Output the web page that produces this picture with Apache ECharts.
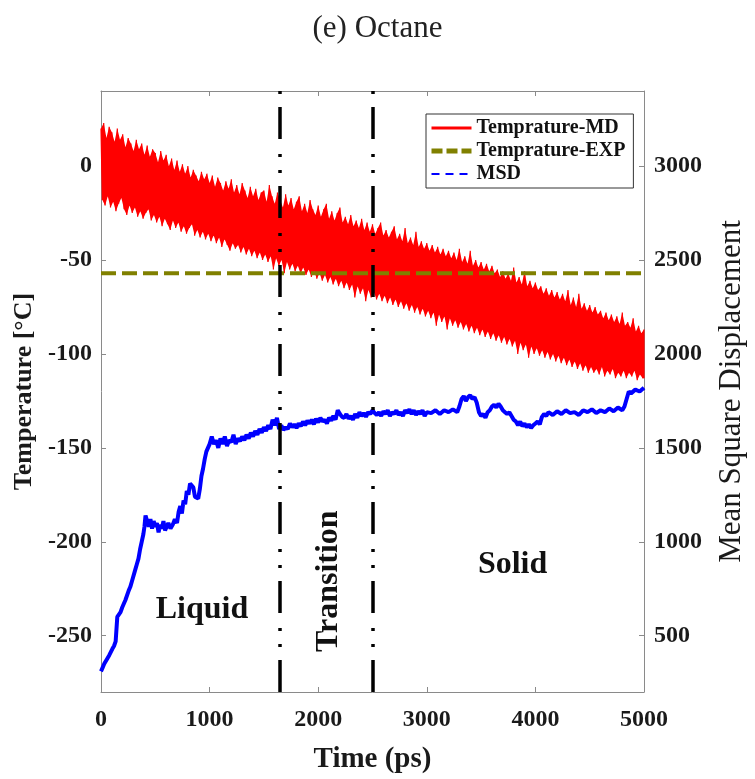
<!DOCTYPE html>
<html>
<head>
<meta charset="utf-8">
<script src="https://cdn.jsdelivr.net/npm/echarts@6/dist/echarts.min.js"></script>
<style>
  html, body { margin: 0; padding: 0; background: #fff; }
  #chart { width: 755px; height: 779px; }
</style>
</head>
<body>
<div id="chart"></div>
<script>
// time step of the MD temperature trace (peak at t, trough at t + step/2)
var mdStep = 25;
var mdPeaks = [20, 23, 15, 21, 18, 13, 20, 14, 17, 10,
    15, 12, 8, 14, 9, 12, 6, 11, 5, 9,
    7, 2, 8, 3, 6, 0, 4, -2, 3, -3,
    1, -4, 0, -6, -2, -5, -8, -3, -7, -4,
    -9, -5, -11, -6, -9, -13, -8, -12, -7, -14,
    -10, -15, -9, -13, -17, -11, -16, -12, -18, -14,
    -13, -19, -10, -16, -20, -14, -18, -22, -15, -21,
    -17, -23, -19, -16, -24, -20, -25, -18, -23, -26,
    -21, -27, -23, -20, -28, -24, -29, -25, -22, -30,
    -27, -31, -26, -32, -29, -33, -28, -34, -30, -35,
    -31, -36, -33, -30, -37, -34, -38, -35, -32, -39,
    -36, -40, -33, -41, -38, -42, -35, -43, -40, -44,
    -41, -45, -42, -46, -43, -47, -44, -48, -45, -49,
    -46, -50, -44, -51, -48, -52, -45, -53, -50, -54,
    -51, -55, -52, -56, -53, -57, -55, -59, -56, -60,
    -57, -61, -54, -62, -59, -63, -56, -64, -61, -65,
    -62, -66, -64, -68, -65, -69, -66, -70, -67, -71,
    -68, -72, -66, -74, -70, -75, -68, -76, -73, -77,
    -74, -78, -75, -79, -77, -81, -78, -82, -79, -83,
    -80, -84, -78, -85, -83, -86, -81, -88, -85, -89,
    -87];
var mdTroughs = [-18, -21, -16, -22, -19, -24, -20, -17, -23, -26,
    -21, -25, -22, -27, -24, -28, -25, -23, -29, -26,
    -30, -27, -32, -28, -31, -34, -29, -33, -30, -35,
    -32, -36, -33, -31, -37, -34, -38, -35, -39, -36,
    -40, -37, -41, -38, -43, -39, -42, -45, -41, -44,
    -42, -46, -43, -47, -44, -48, -45, -49, -46, -50,
    -47, -51, -48, -55, -49, -53, -50, -57, -51, -55,
    -52, -56, -53, -57, -54, -58, -55, -59, -56, -60,
    -57, -61, -58, -62, -59, -63, -60, -64, -61, -65,
    -62, -66, -63, -70, -64, -68, -65, -72, -66, -70,
    -67, -71, -68, -72, -69, -73, -70, -74, -71, -75,
    -72, -76, -73, -77, -74, -78, -75, -79, -76, -80,
    -77, -81, -78, -85, -79, -83, -80, -87, -81, -85,
    -82, -86, -83, -87, -84, -88, -85, -89, -86, -90,
    -87, -91, -88, -92, -89, -93, -90, -94, -91, -95,
    -92, -96, -93, -100, -94, -98, -95, -102, -96, -100,
    -97, -101, -98, -102, -99, -103, -100, -104, -101, -105,
    -102, -106, -103, -107, -104, -108, -105, -109, -106, -110,
    -107, -110, -108, -111, -107, -112, -109, -111, -108, -113,
    -110, -112, -109, -113, -110, -112, -109, -114, -111, -113,
    -113];

var expTemp = -57;
var expRange = [0, 5000];

var msdTime = [0, 15, 30, 45, 60, 75, 90, 105, 120, 135, 145, 150, 165, 180, 195, 210, 225, 240, 255, 270,
    285, 300, 315, 330, 345, 360, 375, 390, 400, 410, 420, 430, 440, 455, 470, 485, 500, 515, 530, 545,
    560, 575, 590, 605, 620, 640, 660, 680, 700, 715, 730, 745, 760, 775, 790, 805, 820, 835, 850, 865,
    880, 895, 910, 925, 940, 955, 970, 985, 1000, 1020, 1040, 1060, 1080, 1100, 1120, 1140, 1160, 1180, 1200, 1220,
    1240, 1260, 1280, 1300, 1320, 1340, 1360, 1380, 1400, 1420, 1440, 1460, 1480, 1500, 1520, 1540, 1560, 1580, 1600, 1620,
    1640, 1660, 1680, 1700, 1720, 1740, 1760, 1780, 1800, 1820, 1840, 1860, 1880, 1900, 1920, 1940, 1960, 1980, 2000, 2020,
    2040, 2060, 2080, 2100, 2120, 2140, 2160, 2180, 2200, 2220, 2240, 2260, 2280, 2300, 2320, 2340, 2360, 2380, 2400, 2420,
    2440, 2460, 2480, 2500, 2520, 2540, 2560, 2580, 2600, 2620, 2640, 2660, 2680, 2700, 2720, 2740, 2760, 2780, 2800, 2820,
    2840, 2860, 2880, 2900, 2920, 2940, 2960, 2980, 3000, 3040, 3080, 3120, 3160, 3200, 3240, 3280, 3300, 3320, 3340, 3360,
    3380, 3400, 3420, 3440, 3460, 3480, 3500, 3520, 3540, 3560, 3580, 3600, 3620, 3640, 3660, 3680, 3700, 3720, 3740, 3760,
    3780, 3800, 3820, 3840, 3860, 3880, 3900, 3920, 3940, 3960, 3980, 4000, 4020, 4040, 4060, 4080, 4100, 4120, 4160, 4200,
    4240, 4280, 4320, 4360, 4400, 4440, 4480, 4520, 4560, 4600, 4640, 4680, 4720, 4760, 4800, 4820, 4840, 4860, 4880, 4920,
    4960, 5000];
var msdValue = [310, 330, 350, 345, 380, 395, 400, 430, 445, 470, 480, 600, 610, 625, 650, 640, 690, 700, 740, 760,
    790, 800, 850, 880, 910, 960, 1000, 1040, 1080, 1140, 1150, 1100, 1080, 1120, 1070, 1110, 1080, 1100, 1050, 1090,
    1070, 1110, 1060, 1080, 1100, 1070, 1090, 1120, 1100, 1160, 1190, 1150, 1220, 1200, 1270, 1250, 1310, 1320, 1290, 1240,
    1250, 1230, 1280, 1350, 1390, 1440, 1480, 1500, 1520, 1560, 1520, 1540, 1500, 1550, 1520, 1560, 1510, 1540, 1530, 1570,
    1520, 1550, 1535, 1560, 1540, 1570, 1550, 1580, 1560, 1590, 1570, 1600, 1580, 1610, 1590, 1620, 1600, 1650, 1620, 1660,
    1600, 1620, 1595, 1610, 1600, 1630, 1610, 1625, 1605, 1630, 1615, 1640, 1620, 1645, 1630, 1650, 1625, 1655, 1635, 1660,
    1640, 1650, 1630, 1660, 1645, 1670, 1650, 1700, 1680, 1665, 1660, 1680, 1655, 1670, 1650, 1680, 1660, 1690, 1670, 1685,
    1665, 1690, 1680, 1700, 1685, 1675, 1690, 1670, 1695, 1680, 1700, 1670, 1690, 1680, 1700, 1675, 1690, 1670, 1700, 1685,
    1705, 1680, 1700, 1675, 1695, 1680, 1700, 1670, 1690, 1685, 1700, 1680, 1700, 1690, 1705, 1690, 1720, 1760, 1775, 1750,
    1770, 1780, 1760, 1770, 1740, 1690, 1670, 1680, 1660, 1690, 1700, 1720, 1730, 1715, 1735, 1720, 1700, 1690, 1680, 1690,
    1670, 1650, 1640, 1620, 1640, 1615, 1630, 1610, 1625, 1605, 1620, 1630, 1640, 1625, 1665, 1680, 1670, 1690, 1675, 1695,
    1680, 1700, 1685, 1690, 1675, 1700, 1690, 1705, 1685, 1700, 1690, 1710, 1695, 1715, 1700, 1720, 1760, 1800, 1790, 1810,
    1800, 1820];

var phaseBounds = [1650, 2500];
var tempTicks = [-250, -200, -150, -100, -50, 0];
var msdTicks = [500, 1000, 1500, 2000, 2500, 3000];
var regionLabels = [
    { text: 'Liquid', x: 930, y: -236, rotate: 0 },
    { text: 'Transition', x: 2100, y: -221, rotate: Math.PI / 2 },
    { text: 'Solid', x: 3790, y: -212, rotate: 0 }
];

var serif = 'Liberation Serif';
var axisGrey = '#8a8a8a';
var red = '#ff0000';

function troughTime(j) {
    return j < mdTroughs.length - 1 ? j * mdStep + mdStep / 2 : j * mdStep;
}

// zig-zag trace: peak at t, trough half a step later
function buildMd() {
    var out = [];
    for (var i = 0; i < mdPeaks.length; i++) {
        out.push([i * mdStep, mdPeaks[i]]);
        out.push([troughTime(i), mdTroughs[i]]);
    }
    return out;
}

// filled band between the peaks and the troughs of the trace
function renderBand(params, api) {
    var pts = [];
    for (var i = 0; i < mdPeaks.length; i++) {
        pts.push(api.coord([i * mdStep, mdPeaks[i]]));
    }
    for (var j = mdTroughs.length - 1; j >= 0; j--) {
        pts.push(api.coord([troughTime(j), mdTroughs[j]]));
    }
    return {
        type: 'polygon',
        shape: { points: pts },
        style: { fill: red }
    };
}

function buildMsd() {
    var out = [];
    for (var i = 0; i < msdTime.length; i++) {
        out.push([msdTime[i], msdValue[i]]);
    }
    return out;
}

function labelStyle() {
    return {
        fontFamily: serif, fontWeight: 'bold', fontSize: 24, color: '#1a1a1a',
        formatter: function (v) { return String(v); }
    };
}

var chart = echarts.init(document.getElementById('chart'), null, { renderer: 'canvas' });

var option = {
    animation: false,
    backgroundColor: '#fff',
    title: {
        text: '(e) Octane',
        left: 'center',
        top: 8,
        textStyle: { fontFamily: serif, fontWeight: 'normal', fontSize: 31, color: '#222' }
    },
    legend: {
        data: [
            { name: 'Temprature-MD', lineStyle: { width: 3 } },
            { name: 'Temprature-EXP', lineStyle: { width: 5, type: [11, 4] } },
            { name: 'MSD', lineStyle: { width: 2, type: [8, 6] } }
        ],
        orient: 'vertical',
        left: 426,
        top: 114,
        itemWidth: 40,
        itemHeight: 12,
        itemGap: 3,
        padding: [4, 8, 4, 3],
        borderColor: '#333',
        borderWidth: 1,
        backgroundColor: '#fff',
        itemStyle: { opacity: 0 },
        textStyle: { fontFamily: serif, fontWeight: 'bold', fontSize: 20, color: '#111' }
    },
    grid: { left: 101, right: 102, top: 91, bottom: 75, containLabel: false },
    xAxis: [{
        type: 'value', min: 0, max: 5000, interval: 1000, position: 'bottom',
        name: 'Time (ps)', nameLocation: 'middle', nameGap: 53,
        nameTextStyle: { fontFamily: serif, fontWeight: 'bold', fontSize: 29, color: '#1a1a1a' },
        axisLine: { onZero: false, lineStyle: { color: axisGrey, width: 1 } },
        axisTick: { inside: true, length: 5, lineStyle: { color: axisGrey } },
        axisLabel: Object.assign({ margin: 16 }, labelStyle()),
        splitLine: { show: false }
    }, {
        type: 'value', min: 0, max: 5000, interval: 1000, position: 'top',
        axisLine: { onZero: false, lineStyle: { color: axisGrey, width: 1 } },
        axisTick: { inside: true, length: 5, lineStyle: { color: axisGrey } },
        axisLabel: { show: false },
        splitLine: { show: false }
    }],
    yAxis: [{
        type: 'value', min: -280, max: 40, position: 'left',
        name: 'Temperature [°C]', nameLocation: 'middle', nameGap: 64, nameRotate: 90,
        nameTextStyle: { fontFamily: serif, fontWeight: 'bold', fontSize: 26, color: '#1a1a1a' },
        axisLine: { show: true, onZero: false, lineStyle: { color: axisGrey, width: 1 } },
        axisTick: { show: true, inside: true, length: 5, customValues: tempTicks, lineStyle: { color: axisGrey } },
        axisLabel: Object.assign({ margin: 9, customValues: tempTicks }, labelStyle()),
        splitLine: { show: false }
    }, {
        type: 'value', min: 200, max: 3400, position: 'right',
        name: 'Mean Square Displacement', nameLocation: 'middle', nameGap: 72, nameRotate: 90,
        nameTextStyle: { fontFamily: serif, fontWeight: 'normal', fontSize: 31, color: '#1a1a1a' },
        axisLine: { show: true, onZero: false, lineStyle: { color: axisGrey, width: 1 } },
        axisTick: { show: true, inside: true, length: 5, customValues: msdTicks, lineStyle: { color: axisGrey } },
        axisLabel: Object.assign({ margin: 10, customValues: msdTicks }, labelStyle()),
        splitLine: { show: false }
    }],
    series: [{
        name: 'mdBand', type: 'custom', xAxisIndex: 0, yAxisIndex: 0,
        data: [[0, mdPeaks[0]]], silent: true,
        renderItem: renderBand
    }, {
        name: 'Temprature-MD', type: 'line', xAxisIndex: 0, yAxisIndex: 0,
        data: buildMd(), symbol: 'none',
        lineStyle: { color: red, width: 1.2 },
        itemStyle: { color: red }
    }, {
        name: 'Temprature-EXP', type: 'line', xAxisIndex: 0, yAxisIndex: 0,
        data: [[expRange[0], expTemp], [expRange[1], expTemp]], symbol: 'none',
        lineStyle: { color: '#808000', width: 4, type: [15, 6] },
        itemStyle: { color: '#808000' }
    }, {
        name: 'MSD', type: 'line', xAxisIndex: 0, yAxisIndex: 1,
        data: buildMsd(), symbol: 'none',
        lineStyle: { color: '#0000ff', width: 4 },
        itemStyle: { color: '#0000ff' }
    }, {
        name: 'phase', type: 'line', xAxisIndex: 0, yAxisIndex: 0, z: 5,
        data: [], symbol: 'none',
        markLine: {
            silent: true, symbol: ['none', 'none'],
            label: { show: false },
            lineStyle: { color: '#000', width: 3.5, type: [32, 13, 3, 13, 3, 15] },
            data: phaseBounds.map(function (v) { return { xAxis: v }; })
        }
    }]
};

chart.setOption(option);

var graphics = regionLabels.map(function (r) {
    var p = chart.convertToPixel({ xAxisIndex: 0, yAxisIndex: 0 }, [r.x, r.y]);
    return {
        type: 'text', x: p[0], y: p[1], rotation: r.rotate, z: 10,
        style: {
            text: r.text, fontFamily: serif, fontWeight: 'bold', fontSize: 32,
            fill: '#111', align: 'center', verticalAlign: 'middle'
        }
    };
});
chart.setOption({ graphic: graphics });
</script>
</body>
</html>
